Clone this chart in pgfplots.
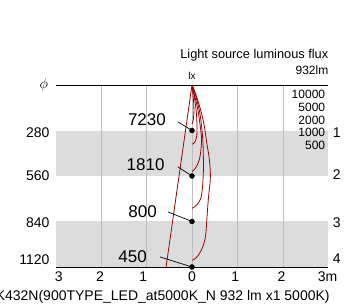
\documentclass[border=0pt]{standalone}
\usepackage{pgfplots}
\pgfplotsset{compat=1.18}
\usepackage{fontspec}
\setmainfont{Liberation Sans}
\definecolor{band}{RGB}{220,220,220}
\definecolor{gridc}{RGB}{190,190,190}
\definecolor{iso}{RGB}{160,0,0}
\begin{document}
\begin{tikzpicture}
\useasboundingbox (0pt,0pt) rectangle (360pt,308pt);
\clip (0pt,0pt) rectangle (360pt,308pt);
\begin{axis}[at={(192pt,132pt)}, anchor=center, scale only axis,
  width=273pt, height=182pt, xmin=-3, xmax=3, ymin=0, ymax=4,
  y dir=reverse, hide axis, clip=false,
  /tikz/lab/.style={font=\fontsize{14}{16}\selectfont, inner sep=0pt},
  /tikz/big/.style={font=\fontsize{17}{19}\selectfont, inner sep=0pt},
  /tikz/leg/.style={font=\fontsize{12}{14}\selectfont, inner sep=0pt}]
% bands
\fill[band] (axis cs:-3,1) rectangle (axis cs:3,2);
\fill[band] (axis cs:-3,3) rectangle (axis cs:3,4);
% grid
\foreach \g in {-2,-1,0,1,2}{\edef\tmp{\noexpand\draw[gridc, line width=0.8pt] (axis cs:\g,0) -- (axis cs:\g,4);}\tmp}
% frame lines
\draw[black, line width=0.9pt] (axis cs:-3,0) -- (axis cs:3,0);
\draw[black, line width=0.9pt] (axis cs:-3,4) -- (axis cs:3,4);
% beam line
\addplot[iso, line width=0.8pt] coordinates {(0,0) (-0.57,4)};
% isolux curves
\addplot[iso, line width=0.8pt, smooth, tension=0.6] coordinates {(0,0) (0.02,0.2) (0.04,0.45) (0.04,0.65) (0.02,0.8) (0,0.85)};
\addplot[iso, line width=0.8pt, smooth, tension=0.6] coordinates {(0,0) (0.04,0.2) (0.09,0.55) (0.11,0.9) (0.10,1.15) (0.05,1.27) (0,1.3)};
\addplot[iso, line width=0.8pt, smooth, tension=0.6] coordinates {(0,0) (0.05,0.2) (0.13,0.55) (0.18,0.9) (0.21,1.2) (0.18,1.55) (0.12,1.75) (0.04,1.87) (0,1.9)};
\addplot[iso, line width=0.8pt, smooth, tension=0.6] coordinates {(0,0) (0.07,0.2) (0.16,0.55) (0.21,0.9) (0.24,1.25) (0.25,1.6) (0.25,1.9) (0.23,2.25) (0.19,2.5) (0.10,2.64) (0.02,2.7) (0,2.71)};
\addplot[iso, line width=0.8pt, smooth, tension=0.6] coordinates {(0,0) (0.08,0.2) (0.19,0.55) (0.27,0.9) (0.32,1.25) (0.37,1.55) (0.40,1.85) (0.40,2.1) (0.36,2.5) (0.33,2.9) (0.30,3.3) (0.24,3.55) (0.14,3.74) (0.05,3.83) (0,3.85)};
% leader lines
\addplot[black, line width=0.7pt] coordinates {(-0.31,0.81) (0,1)};
\addplot[black, line width=0.7pt] coordinates {(-0.31,1.8) (0,2)};
\addplot[black, line width=0.7pt] coordinates {(-0.53,2.79) (0,3)};
\addplot[black, line width=0.7pt] coordinates {(-0.70,3.78) (0,4)};
% dots
\addplot[only marks, mark=*, mark size=2.5pt, black] coordinates {(0,1) (0,2) (0,3) (0,4)};
% point labels
\node[big, anchor=east] at (axis cs:-0.57,0.77) {7230};
\node[big, anchor=east] at (axis cs:-0.60,1.76) {1810};
\node[big, anchor=east] at (axis cs:-0.77,2.79) {800};
\node[big, anchor=east] at (axis cs:-0.99,3.78) {450};
% left labels
\node[font=\fontsize{15}{17}\selectfont, inner sep=0pt] at (axis cs:-3.26,0) {$\phi$};
\node[lab, anchor=east] at (axis cs:-3.13,1.05) {280};
\node[lab, anchor=east] at (axis cs:-3.13,2.0) {560};
\node[lab, anchor=east] at (axis cs:-3.13,3.03) {840};
\node[lab, anchor=east] at (axis cs:-3.13,3.85) {1120};
% right labels
\node[lab] at (axis cs:3.18,1.05) {1};
\node[lab] at (axis cs:3.18,1.98) {2};
\node[lab] at (axis cs:3.18,3.03) {3};
\node[lab] at (axis cs:3.18,3.82) {4};
% bottom labels
\node[lab] at (axis cs:-2.93,4.22) {3};
\node[lab] at (axis cs:-2.02,4.22) {2};
\node[lab] at (axis cs:-1.07,4.22) {1};
\node[lab] at (axis cs:0,4.22) {0};
\node[lab] at (axis cs:0.95,4.22) {1};
\node[lab] at (axis cs:1.97,4.22) {2};
\node[lab, anchor=west] at (axis cs:2.76,4.22) {3m};
% legend values
\node[leg, anchor=east] at (axis cs:2.93,0.20) {10000};
\node[leg, anchor=east] at (axis cs:2.93,0.50) {5000};
\node[leg, anchor=east] at (axis cs:2.93,0.77) {2000};
\node[leg, anchor=east] at (axis cs:2.93,1.05) {1000};
\node[leg, anchor=east] at (axis cs:2.93,1.32) {500};
% header
\node[font=\fontsize{12.8}{14}\selectfont, inner sep=0pt, anchor=east] at (axis cs:3.0,-0.66) {Light source luminous flux};
\node[leg, anchor=east] at (axis cs:3.0,-0.33) {932lm};
\node[font=\fontsize{10}{12}\selectfont, inner sep=0pt] at (axis cs:0,-0.2) {lx};
% bottom title
\node[lab, anchor=east] at (axis cs:3.03,4.66) {K432N(900TYPE\_LED\_at5000K\_N 932 lm x1 5000K)};
\end{axis}
\end{tikzpicture}
\end{document}
